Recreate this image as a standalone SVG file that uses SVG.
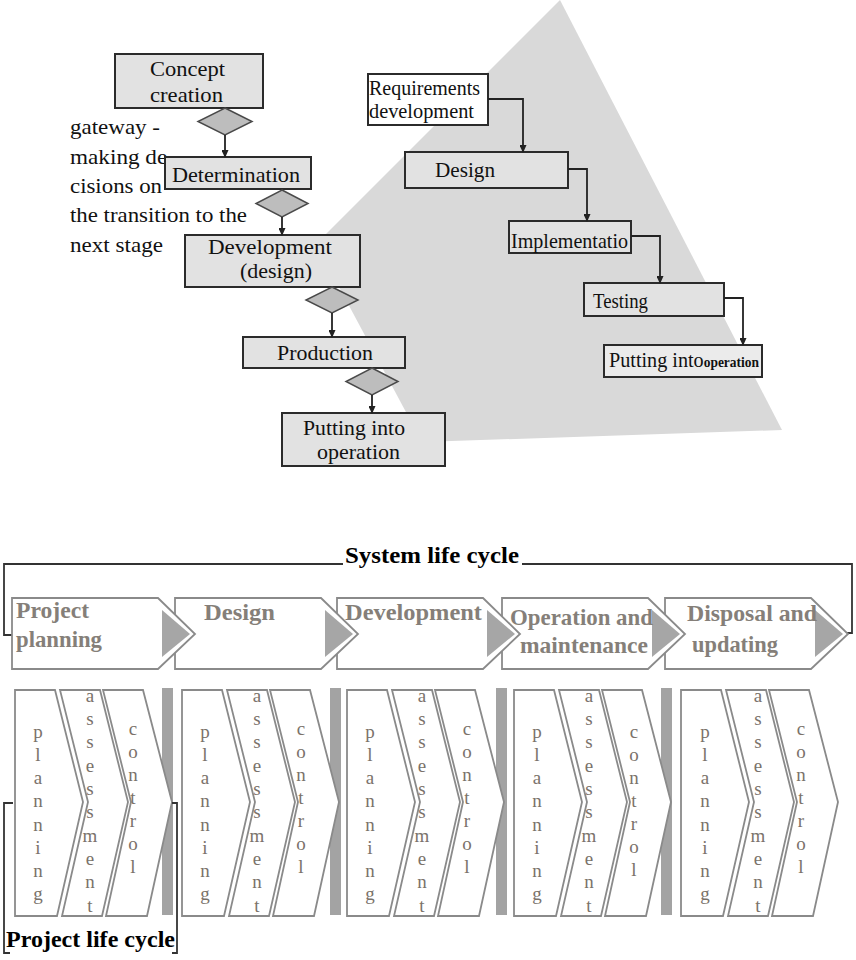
<svg xmlns="http://www.w3.org/2000/svg" width="856" height="960" viewBox="0 0 856 960" font-family="Liberation Serif, DejaVu Serif, serif">
<defs>
<marker id="ah" markerWidth="8" markerHeight="7" refX="7" refY="3.5" orient="auto" markerUnits="userSpaceOnUse">
<path d="M0,0 L8,3.5 L0,7 Z" fill="#222"/>
</marker>
<style>
.t{fill:#111;font-size:21px;}
.box{fill:#e2e2e2;stroke:#2b2b2b;stroke-width:2;}
.wbox{fill:#ffffff;stroke:#2b2b2b;stroke-width:2;}
.dia{fill:#bdbdbd;stroke:#4a4a4a;stroke-width:1.5;}
.con{fill:none;stroke:#222;stroke-width:1.8;}
.chev{fill:#ffffff;stroke:#8a8a8a;stroke-width:1.8;}
.tri{fill:#a6a6a6;}
.ph{font-weight:bold;font-size:23px;fill:#857f79;}
.vl{font-size:19px;fill:#7a726a;text-anchor:middle;}
.bar{fill:#a3a3a3;}
.br{fill:none;stroke:#333;stroke-width:1.8;}
</style>
</defs>
<rect width="856" height="960" fill="#ffffff"/>

<!-- background gray triangle -->
<polygon points="560,0 782,430 422,442 316,244" fill="#d9d9d9"/>

<!-- left flow -->
<g id="concept"><rect class="box" x="115" y="54" width="148" height="54"/>
<text class="t" x="150" y="76" textLength="75" lengthAdjust="spacingAndGlyphs">Concept</text>
<text class="t" x="150" y="102" textLength="73" lengthAdjust="spacingAndGlyphs">creation</text></g>
<g id="gw1"><polygon class="dia" points="225,108 252,121.5 225,135 198,121.5"/></g>
<g id="gateway-note">
<text class="t" x="70" y="134" textLength="90" lengthAdjust="spacingAndGlyphs">gateway -</text>
<text class="t" x="70" y="164" textLength="105" lengthAdjust="spacingAndGlyphs">making de-</text>
<text class="t" x="70" y="193" textLength="92" lengthAdjust="spacingAndGlyphs">cisions on</text>
<text class="t" x="70" y="222" textLength="177" lengthAdjust="spacingAndGlyphs">the transition to the</text>
<text class="t" x="70" y="252" textLength="93" lengthAdjust="spacingAndGlyphs">next stage</text></g>
<g id="determination"><rect class="box" x="165" y="157" width="146" height="32"/>
<text class="t" x="172" y="182" textLength="128" lengthAdjust="spacingAndGlyphs">Determination</text></g>
<g id="gw2"><polygon class="dia" points="282,190 308,203.5 282,217 256,203.5"/></g>
<g id="development"><rect class="box" x="185" y="235" width="175" height="52"/>
<text class="t" x="208" y="254" textLength="124" lengthAdjust="spacingAndGlyphs">Development</text>
<text class="t" x="240" y="278" textLength="72" lengthAdjust="spacingAndGlyphs">(design)</text></g>
<g id="gw3"><polygon class="dia" points="332,287 358,300 332,313 306,300"/></g>
<g id="production"><rect class="box" x="243" y="337" width="162" height="31"/>
<text class="t" x="277" y="360" textLength="96" lengthAdjust="spacingAndGlyphs">Production</text></g>
<g id="gw4"><polygon class="dia" points="372,368 398,381.5 372,395 346,381.5"/></g>
<g id="putting-left"><rect class="box" x="282" y="413" width="163" height="53"/>
<text class="t" x="303" y="435" textLength="102" lengthAdjust="spacingAndGlyphs">Putting into</text>
<text class="t" x="317" y="459" textLength="83" lengthAdjust="spacingAndGlyphs">operation</text></g>

<!-- right flow -->
<g id="requirements"><rect class="wbox" x="368" y="74" width="120" height="51"/>
<text class="t" font-size="18" x="369" y="95" textLength="111" lengthAdjust="spacingAndGlyphs">Requirements</text>
<text class="t" font-size="18" x="369" y="118" textLength="105" lengthAdjust="spacingAndGlyphs">development</text></g>
<g id="design-r"><rect class="box" x="405" y="152" width="163" height="36"/>
<text class="t" font-size="19" x="435" y="177" textLength="60" lengthAdjust="spacingAndGlyphs">Design</text></g>
<g id="implementation"><rect class="box" x="509" y="221" width="122" height="32"/>
<text class="t" font-size="19" x="511" y="248" textLength="117" lengthAdjust="spacingAndGlyphs">Implementatio</text></g>
<g id="testing"><rect class="box" x="584" y="283" width="140" height="33"/>
<text class="t" font-size="19" x="593" y="308" textLength="55" lengthAdjust="spacingAndGlyphs">Testing</text></g>
<g id="putting-right"><rect class="box" x="604" y="345" width="158" height="32" style="fill:#ebebeb"/>
<text class="t" font-size="16" x="609" y="367" textLength="150" lengthAdjust="spacingAndGlyphs">Putting into<tspan font-size="14" font-weight="bold">operation</tspan></text></g>

<g id="connectors">
<line class="con" x1="225" y1="135" x2="225" y2="157" marker-end="url(#ah)"/>
<line class="con" x1="282" y1="217" x2="282" y2="235" marker-end="url(#ah)"/>
<line class="con" x1="332" y1="313" x2="332" y2="337" marker-end="url(#ah)"/>
<line class="con" x1="372" y1="395" x2="372" y2="413" marker-end="url(#ah)"/>
<polyline class="con" points="488,99 523,99 523,152" marker-end="url(#ah)"/>
<polyline class="con" points="568,169 587,169 587,221" marker-end="url(#ah)"/>
<polyline class="con" points="631,236 660,236 660,283" marker-end="url(#ah)"/>
<polyline class="con" points="724,298 743,298 743,345" marker-end="url(#ah)"/>
</g>

<!-- System life cycle -->
<g id="system-bracket">
<polyline class="br" points="343,564 4,564 4,635 13,635"/>
<polyline class="br" points="522,564 852,564 852,633 846,633"/>
<text x="345" y="563" font-weight="bold" font-size="24" fill="#000" textLength="174" lengthAdjust="spacingAndGlyphs">System life cycle</text>
</g>

<g id="phases">
<polygon class="chev" points="665,598 811,598 848,634 811,669 665,669"/>
<polygon class="tri" points="815,610 843,634 815,657"/>
<polygon class="chev" points="502,598 648,598 685,634 648,669 502,669"/>
<polygon class="tri" points="652,610 680,634 652,657"/>
<polygon class="chev" points="337,598 483,598 520,634 483,669 337,669"/>
<polygon class="tri" points="487,610 515,634 487,657"/>
<polygon class="chev" points="175,598 321,598 358,634 321,669 175,669"/>
<polygon class="tri" points="325,610 353,634 325,657"/>
<polygon class="chev" points="12,598 158,598 195,634 158,669 12,669"/>
<polygon class="tri" points="162,610 190,634 162,657"/>
</g>
<g id="phase-labels">
<text class="ph" x="16" y="618" textLength="73" lengthAdjust="spacingAndGlyphs">Project</text>
<text class="ph" x="16" y="647" textLength="86" lengthAdjust="spacingAndGlyphs">planning</text>
<text class="ph" x="204" y="620" textLength="71" lengthAdjust="spacingAndGlyphs">Design</text>
<text class="ph" x="345" y="620" textLength="137" lengthAdjust="spacingAndGlyphs">Development</text>
<text class="ph" x="510" y="625" textLength="143" lengthAdjust="spacingAndGlyphs">Operation and</text>
<text class="ph" x="520" y="653" textLength="128" lengthAdjust="spacingAndGlyphs">maintenance</text>
<text class="ph" x="687" y="621" textLength="130" lengthAdjust="spacingAndGlyphs">Disposal and</text>
<text class="ph" x="692" y="652" textLength="86" lengthAdjust="spacingAndGlyphs">updating</text>
</g>

<!-- project life cycle groups -->
<g id="group1" transform="translate(15,0)">
<rect class="bar" x="147" y="688" width="11" height="227"/>
<polygon class="chev" points="0,690 40,690 68,802 42,916 0,916"/>
<polygon class="chev" points="45,690 85,690 113,802 87,916 47,916 73,802"/>
<polygon class="chev" points="88,690 128,690 157,802 132,916 91,916 116,802"/>
<text class="vl"><tspan x="23" y="738">p</tspan><tspan x="23" y="761">l</tspan><tspan x="23" y="784">a</tspan><tspan x="23" y="807">n</tspan><tspan x="23" y="831">n</tspan><tspan x="23" y="854">i</tspan><tspan x="23" y="877">n</tspan><tspan x="23" y="900">g</tspan></text>
<text class="vl"><tspan x="75" y="702">a</tspan><tspan x="75" y="725">s</tspan><tspan x="75" y="748">s</tspan><tspan x="75" y="772">e</tspan><tspan x="75" y="795">s</tspan><tspan x="75" y="818">s</tspan><tspan x="75" y="842">m</tspan><tspan x="75" y="865">e</tspan><tspan x="75" y="888">n</tspan><tspan x="75" y="912">t</tspan></text>
<text class="vl"><tspan x="118" y="735">c</tspan><tspan x="118" y="758">o</tspan><tspan x="118" y="781">n</tspan><tspan x="118" y="804">t</tspan><tspan x="118" y="827">r</tspan><tspan x="118" y="850">o</tspan><tspan x="118" y="873">l</tspan></text>
</g>
<g id="group2" transform="translate(182,0)">
<rect class="bar" x="148" y="688" width="11" height="227"/>
<polygon class="chev" points="0,690 40,690 68,802 42,916 0,916"/>
<polygon class="chev" points="45,690 85,690 113,802 87,916 47,916 73,802"/>
<polygon class="chev" points="88,690 128,690 157,802 132,916 91,916 116,802"/>
<text class="vl"><tspan x="23" y="738">p</tspan><tspan x="23" y="761">l</tspan><tspan x="23" y="784">a</tspan><tspan x="23" y="807">n</tspan><tspan x="23" y="831">n</tspan><tspan x="23" y="854">i</tspan><tspan x="23" y="877">n</tspan><tspan x="23" y="900">g</tspan></text>
<text class="vl"><tspan x="75" y="702">a</tspan><tspan x="75" y="725">s</tspan><tspan x="75" y="748">s</tspan><tspan x="75" y="772">e</tspan><tspan x="75" y="795">s</tspan><tspan x="75" y="818">s</tspan><tspan x="75" y="842">m</tspan><tspan x="75" y="865">e</tspan><tspan x="75" y="888">n</tspan><tspan x="75" y="912">t</tspan></text>
<text class="vl"><tspan x="119" y="735">c</tspan><tspan x="119" y="758">o</tspan><tspan x="119" y="781">n</tspan><tspan x="119" y="804">t</tspan><tspan x="119" y="827">r</tspan><tspan x="119" y="850">o</tspan><tspan x="119" y="873">l</tspan></text>
</g>
<g id="group3" transform="translate(347,0)">
<rect class="bar" x="149" y="688" width="11" height="227"/>
<polygon class="chev" points="0,690 40,690 68,802 42,916 0,916"/>
<polygon class="chev" points="45,690 85,690 113,802 87,916 47,916 73,802"/>
<polygon class="chev" points="88,690 128,690 157,802 132,916 91,916 116,802"/>
<text class="vl"><tspan x="23" y="738">p</tspan><tspan x="23" y="761">l</tspan><tspan x="23" y="784">a</tspan><tspan x="23" y="807">n</tspan><tspan x="23" y="831">n</tspan><tspan x="23" y="854">i</tspan><tspan x="23" y="877">n</tspan><tspan x="23" y="900">g</tspan></text>
<text class="vl"><tspan x="75" y="702">a</tspan><tspan x="75" y="725">s</tspan><tspan x="75" y="748">s</tspan><tspan x="75" y="772">e</tspan><tspan x="75" y="795">s</tspan><tspan x="75" y="818">s</tspan><tspan x="75" y="842">m</tspan><tspan x="75" y="865">e</tspan><tspan x="75" y="888">n</tspan><tspan x="75" y="912">t</tspan></text>
<text class="vl"><tspan x="120" y="735">c</tspan><tspan x="120" y="758">o</tspan><tspan x="120" y="781">n</tspan><tspan x="120" y="804">t</tspan><tspan x="120" y="827">r</tspan><tspan x="120" y="850">o</tspan><tspan x="120" y="873">l</tspan></text>
</g>
<g id="group4" transform="translate(514,0)">
<rect class="bar" x="147" y="688" width="11" height="227"/>
<polygon class="chev" points="0,690 40,690 68,802 42,916 0,916"/>
<polygon class="chev" points="45,690 85,690 113,802 87,916 47,916 73,802"/>
<polygon class="chev" points="88,690 128,690 157,802 132,916 91,916 116,802"/>
<text class="vl"><tspan x="23" y="738">p</tspan><tspan x="23" y="761">l</tspan><tspan x="23" y="784">a</tspan><tspan x="23" y="807">n</tspan><tspan x="23" y="831">n</tspan><tspan x="23" y="854">i</tspan><tspan x="23" y="877">n</tspan><tspan x="23" y="900">g</tspan></text>
<text class="vl"><tspan x="75" y="702">a</tspan><tspan x="75" y="725">s</tspan><tspan x="75" y="748">s</tspan><tspan x="75" y="772">e</tspan><tspan x="75" y="795">s</tspan><tspan x="75" y="818">s</tspan><tspan x="75" y="842">m</tspan><tspan x="75" y="865">e</tspan><tspan x="75" y="888">n</tspan><tspan x="75" y="912">t</tspan></text>
<text class="vl"><tspan x="120" y="738">c</tspan><tspan x="120" y="761">o</tspan><tspan x="120" y="784">n</tspan><tspan x="120" y="807">t</tspan><tspan x="120" y="830">r</tspan><tspan x="120" y="853">o</tspan><tspan x="120" y="876">l</tspan></text>
</g>
<g id="group5" transform="translate(681,0)">
<polygon class="chev" points="0,690 40,690 68,802 42,916 0,916"/>
<polygon class="chev" points="45,690 85,690 113,802 87,916 47,916 73,802"/>
<polygon class="chev" points="88,690 128,690 157,802 132,916 91,916 116,802"/>
<text class="vl"><tspan x="24" y="738">p</tspan><tspan x="24" y="761">l</tspan><tspan x="24" y="784">a</tspan><tspan x="24" y="807">n</tspan><tspan x="24" y="831">n</tspan><tspan x="24" y="854">i</tspan><tspan x="24" y="877">n</tspan><tspan x="24" y="900">g</tspan></text>
<text class="vl"><tspan x="77" y="702">a</tspan><tspan x="77" y="725">s</tspan><tspan x="77" y="748">s</tspan><tspan x="77" y="772">e</tspan><tspan x="77" y="795">s</tspan><tspan x="77" y="818">s</tspan><tspan x="77" y="842">m</tspan><tspan x="77" y="865">e</tspan><tspan x="77" y="888">n</tspan><tspan x="77" y="912">t</tspan></text>
<text class="vl"><tspan x="120" y="735">c</tspan><tspan x="120" y="758">o</tspan><tspan x="120" y="781">n</tspan><tspan x="120" y="804">t</tspan><tspan x="120" y="827">r</tspan><tspan x="120" y="850">o</tspan><tspan x="120" y="873">l</tspan></text>
</g>

<g id="project-bracket">
<polyline class="br" points="13,803 4,803 4,953 10,953"/>
<polyline class="br" points="172,803 177,803 177,953 172,953"/>
<text x="6" y="947" font-weight="bold" font-size="23" fill="#000" textLength="169" lengthAdjust="spacingAndGlyphs">Project life cycle</text>
</g>
</svg>
